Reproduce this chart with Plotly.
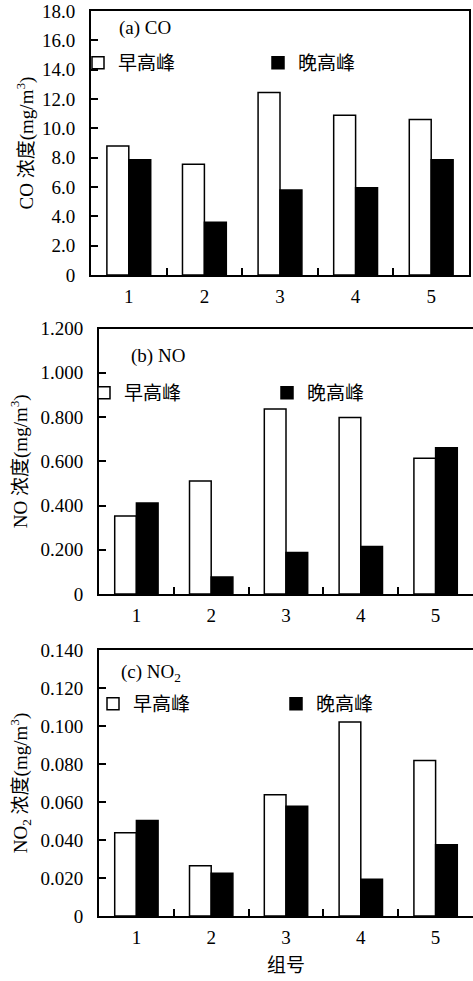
import plotly.graph_objects as go

W, H = 473, 981

groups = ["1", "2", "3", "4", "5"]
series_names = ["早高峰", "晚高峰"]

co_morning = [8.80, 7.55, 12.45, 10.90, 10.60]
co_evening = [7.85, 3.60, 5.80, 5.95, 7.85]
no_morning = [0.352, 0.511, 0.836, 0.798, 0.613]
no_evening = [0.411, 0.077, 0.188, 0.215, 0.661]
no2_morning = [0.0438, 0.0265, 0.0638, 0.1021, 0.0818]
no2_evening = [0.0503, 0.0225, 0.0578, 0.0194, 0.0375]

co_ticks = [0, 2, 4, 6, 8, 10, 12, 14, 16, 18]
co_ticktext = ["0", "2.0", "4.0", "6.0", "8.0", "10.0", "12.0", "14.0", "16.0", "18.0"]
no_ticks = [0, 0.2, 0.4, 0.6, 0.8, 1.0, 1.2]
no_ticktext = ["0", "0.200", "0.400", "0.600", "0.800", "1.000", "1.200"]
no2_ticks = [0, 0.02, 0.04, 0.06, 0.08, 0.10, 0.12, 0.14]
no2_ticktext = ["0", "0.020", "0.040", "0.060", "0.080", "0.100", "0.120", "0.140"]

panel_titles = ["(a) CO", "(b) NO", "(c) NO<sub>2</sub>"]
y_titles = ["CO 浓度(mg/m<sup>3</sup>)", "NO 浓度(mg/m<sup>3</sup>)",
            "NO<sub>2</sub> 浓度(mg/m<sup>3</sup>)"]
x_title = "组号"

FONT = "Liberation Serif, Times New Roman, Noto Sans CJK SC, serif"
FS = 19

# layout geometry in pixels (left, right, top, bottom)
panels = [
    dict(l=91, r=469, t=11, b=275),
    dict(l=99, r=473, t=328.5, b=594),
    dict(l=99, r=473, t=650, b=916),
]

def px_x(v):
    return v / W

def px_y(v):
    return 1 - v / H

fig = go.Figure()

data = [(co_morning, co_evening), (no_morning, no_evening), (no2_morning, no2_evening)]
legend_pos = [
    ((78, 63), (258, 63)),
    ((84, 393), (267, 393)),
    ((93, 704), (276, 704)),
]

for i, (m, e) in enumerate(data):
    ax = "" if i == 0 else str(i + 1)
    lm = "legend" if i == 0 else f"legend{2*i+1}"
    le = f"legend{2*i+2}"
    fig.add_trace(go.Bar(x=groups, y=m, name=series_names[0],
                         marker=dict(color="white", line=dict(color="black", width=1.5)),
                         xaxis="x" + ax, yaxis="y" + ax, legend=lm))
    fig.add_trace(go.Bar(x=groups, y=e, name=series_names[1],
                         marker=dict(color="black", line=dict(color="black", width=1.5)),
                         xaxis="x" + ax, yaxis="y" + ax, legend=le))

ranges = [[0, 18], [0, 1.2], [0, 0.14]]
ticks = [(co_ticks, co_ticktext), (no_ticks, no_ticktext), (no2_ticks, no2_ticktext)]

layout = dict(
    width=W, height=H,
    margin=dict(l=0, r=0, t=0, b=0, pad=0, autoexpand=False),
    paper_bgcolor="white", plot_bgcolor="white",
    barmode="group", bargap=0.42, bargroupgap=0,
    font=dict(family=FONT, size=FS, color="black"),
    showlegend=True,
)

annotations = []
title_pos = [(117, 28), (129, 356), (119, 673)]
y_standoffs = [3, 8, 8]
for i, p in enumerate(panels):
    ax = "" if i == 0 else str(i + 1)
    xa = dict(
        domain=[px_x(p["l"]), min(1, px_x(p["r"]))],
        anchor="y" + ax, type="category", range=[-0.5, 4.5],
        showline=True, linecolor="black", linewidth=2, mirror=True,
        ticks="inside", tickson="boundaries", ticklen=7, tickwidth=2, tickcolor="black",
        ticklabelstandoff=3, automargin=False,
        showgrid=False, zeroline=False,
        tickfont=dict(family=FONT, size=FS),
    )
    if i == 2:
        xa["title"] = dict(text=x_title, font=dict(family=FONT, size=FS), standoff=12)
    ya = dict(
        domain=[px_y(p["b"]), px_y(p["t"])],
        anchor="x" + ax, range=ranges[i],
        tickvals=ticks[i][0], ticktext=ticks[i][1],
        showline=True, linecolor="black", linewidth=2, mirror=(i == 0),
        ticks="inside", ticklen=7, tickwidth=2, tickcolor="black",
        ticklabelstandoff=10, automargin=False,
        showgrid=False, zeroline=False,
        tickfont=dict(family=FONT, size=FS),
        title=dict(text=y_titles[i], font=dict(family=FONT, size=FS), standoff=y_standoffs[i]),
    )
    layout["xaxis" + ax] = xa
    layout["yaxis" + ax] = ya
    tx, ty = title_pos[i]
    annotations.append(dict(text=panel_titles[i], x=px_x(tx), y=px_y(ty),
                            xref="paper", yref="paper", xanchor="left", yanchor="middle",
                            showarrow=False, font=dict(family=FONT, size=FS)))

    for j in range(2):
        key = "legend" if (i == 0 and j == 0) else f"legend{2*i+j+1}"
        lx, ly = legend_pos[i][j]
        layout[key] = dict(x=px_x(lx), y=px_y(ly), xanchor="left", yanchor="middle",
                           bgcolor="rgba(0,0,0,0)", borderwidth=0, itemwidth=30,
                           font=dict(family=FONT, size=FS))

layout["annotations"] = annotations
fig.update_layout(**layout)
fig.write_html("out.html", config={"displayModeBar": False},
               post_script="document.body.style.margin='0';document.body.style.overflow='hidden';")
